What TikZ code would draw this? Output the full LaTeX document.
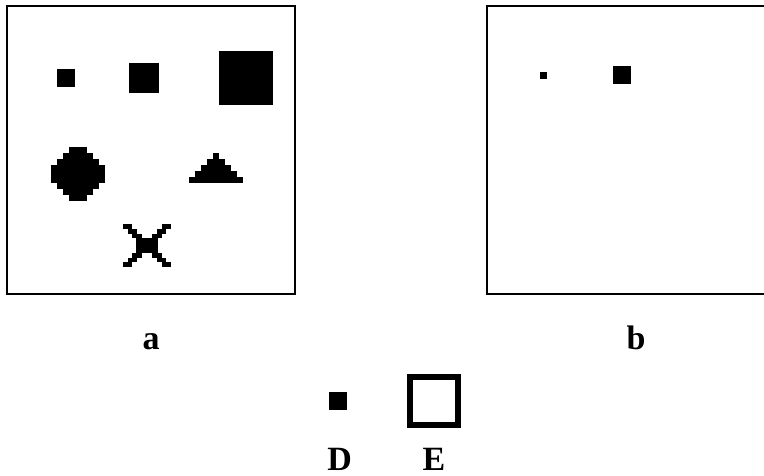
\documentclass[tikz,border=0pt]{standalone}
\usepackage{fontspec}
\setmainfont{Liberation Serif}
\begin{document}
\begin{tikzpicture}[x={(1pt,0)},y={(0,-1pt)},
  frame/.style={draw=black,line width=1.3pt},
  px/.style={fill=black},
  lbl/.style={anchor=base,inner sep=0pt,font=\fontsize{34}{40}\selectfont\bfseries}]
\useasboundingbox[fill=white] (0,0) rectangle (764,476);
% panel a
\draw[frame] (7,6) rectangle (295,294);
\fill[px] (57.3,69.3) rectangle (75.3,87.3);
\fill[px] (129.3,63.3) rectangle (159.3,93.3);
\fill[px] (219.3,51.3) rectangle (273.3,105.3);
% pixel disc
\fill[px] (69.3,147.3) rectangle (87.3,153.3);
\fill[px] (63.3,153.3) rectangle (93.3,159.3);
\fill[px] (57.3,159.3) rectangle (99.3,165.3);
\fill[px] (51.3,165.3) rectangle (105.3,183.3);
\fill[px] (57.3,183.3) rectangle (99.3,189.3);
\fill[px] (63.3,189.3) rectangle (93.3,195.3);
\fill[px] (69.3,195.3) rectangle (87.3,201.3);
% pixel triangle
\fill[px] (213.3,153.3) rectangle (219.3,159.3);
\fill[px] (207.3,159.3) rectangle (225.3,165.3);
\fill[px] (201.3,165.3) rectangle (231.3,171.3);
\fill[px] (195.3,171.3) rectangle (237.3,177.3);
\fill[px] (189.3,177.3) rectangle (243.3,183.3);
% pixel cross
\begin{scope}[shift={(122.7,224)},x={(4.85pt,0)},y={(0,-4.8pt)}]
\foreach \r/\a/\b in {0/0/2,1/1/3,2/2/4,6/2/4,7/1/3,8/0/2}{
  \fill[px] (\a,\r) rectangle (\b,\r+1);
  \fill[px] (10-\b,\r) rectangle (10-\a,\r+1);
}
\fill[px] (2.7,3) rectangle (7.3,6);
\end{scope}
% panel b
\draw[frame] (764,6) -- (487,6) -- (487,294) -- (764,294);
\fill[px] (540,72) rectangle (546.7,78.7);
\fill[px] (612.7,66.3) rectangle (630.7,84.3);
% labels
\node[lbl] (la) at (151,349) {a};
\node[lbl] (lb) at (636,349) {b};
% legend
\fill[px] (329.3,392) rectangle (347.3,410);
\draw[line width=6pt] (410.3,377) rectangle (457.7,425.4);
\node[lbl] (ld) at (339.7,470) {D};
\node[lbl] (le) at (434,470) {E};
\end{tikzpicture}
\end{document}
